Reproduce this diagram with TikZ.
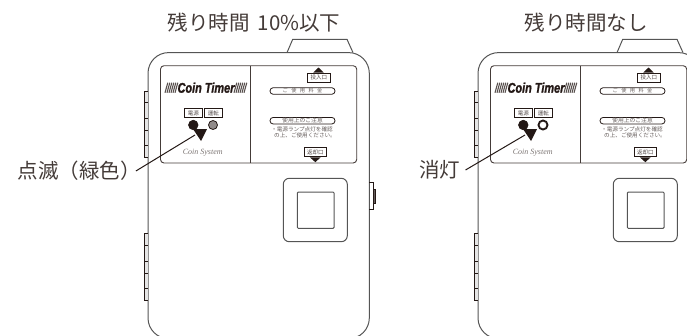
\documentclass[tikz,border=0pt]{standalone}
\usepackage{fontspec}
\setmainfont{Liberation Sans}
\newfontfamily\jp{Noto Sans CJK JP}
\newfontfamily\coinserif{Liberation Serif}
\newfontfamily\coinbold[FakeBold=1.6]{Liberation Sans Bold Italic}
\definecolor{ink}{HTML}{231815}
\definecolor{bodyline}{HTML}{555555}
\tikzset{
  outline/.style={draw=bodyline,line width=1pt},
  panelline/.style={draw=ink!85,line width=.9pt},
  hairline/.style={draw=ink,line width=.55pt},
  bigtext/.style={text=ink!85,font=\jp\fontsize{20.5}{22}\selectfont,inner sep=0pt},
  tinybox/.style={draw=ink,line width=.6pt,fill=white,text=ink!80,inner sep=0pt,minimum height=9pt,font=\jp\fontsize{5.5}{6}\selectfont},
  pill/.style={draw=ink,line width=.8pt,rounded corners=3.2pt,inner sep=0pt,minimum width=65pt,minimum height=6.6pt,text=ink!70,font=\jp\fontsize{5.2}{6}\selectfont},
  tinytext/.style={text=ink!70,inner sep=0pt,font=\jp\fontsize{5.6}{6}\selectfont},
  leader/.style={draw=ink,line width=1pt},
}
\newcommand{\device}[3]{%
\begin{scope}[xshift=#1pt,name prefix=#2-]
  % top tab, then body
  \draw[outline,fill=white] (287,52.6) -- (292.7,39.3) -- (347,39.3) -- (353,52.6);
  \draw[outline,rounded corners=20.6pt] (148,338.6) rectangle (369.3,52.6);
  % hinges
  \draw[hairline,fill=white!90!black] (148,91) -- (144,91) -- (144,157) -- (148,157);
  \draw[hairline,fill=white!90!black] (148,233.3) -- (144,233.3) -- (144,300.7) -- (148,300.7);
  \foreach \ty in {102.7,118,130,145.7,245.5,261,273,288} \draw[hairline] (144,\ty) -- (148,\ty);
  % latch
  \draw[hairline] (369.3,182) -- (373.5,182) -- (373.5,209) -- (369.3,209);
  \draw[hairline,fill=ink!70] (373.5,189) rectangle (375,203);
  % panel
  \draw[panelline,rounded corners=3.5pt] (160.5,65.7) rectangle (356.7,163);
  \draw[panelline] (250.7,65.7) -- (250.7,163);
  % window
  \draw[outline,rounded corners=6pt] (283.3,178.3) rectangle (347.3,241.7);
  \draw[outline,rounded corners=1pt] (297.3,192) rectangle (334,228.3);
  % Coin Timer
  \foreach \sx in {165,167,169,171,173,175,234,236,238,240,242,244}
    \draw[draw=ink!75,line width=1.1pt] (\sx,92.7) -- (\sx+2.8,82.7);
  \node[inner sep=0pt,text=ink,xscale=.78,font=\coinbold\fontsize{14}{14}\selectfont] (title) at (206,87.7) {Coin Timer};
  % lamps
  \node[tinybox,minimum width=18.6pt] (lamp1) at (193.3,113) {電源};
  \node[tinybox,minimum width=17.4pt] (lamp2) at (213.4,113) {運転};
  \node[circle,draw=ink,fill=ink,line width=.6pt,minimum size=9.6pt,inner sep=0pt] (led1) at (193.3,125) {};
  \node[circle,#3,minimum size=9pt,inner sep=0pt] (led2) at (213,125) {};
  \fill[ink] (193,129) -- (207,129) -- (201,141) -- cycle;
  \coordinate (tip) at (195,135);
  \node[text=ink!60,inner sep=0pt,font=\coinserif\itshape\fontsize{8}{9}\selectfont] (maker) at (202.7,153) {Coin System};
  % right part of the panel
  \fill[ink] (313.3,72.6) -- (318.5,67.5) -- (323.7,72.6) -- cycle;
  \node[tinybox,minimum width=22.3pt] (slot) at (318.8,77.8) {投入口};
  \node[pill] (fee) at (302.5,91) {ご\hspace{3.4pt}使\hspace{3.4pt}用\hspace{3.4pt}料\hspace{3.4pt}金};
  \node[pill,font=\jp\fontsize{5.8}{6}\selectfont] (note) at (302.5,120.7) {使用上のご注意};
  \node[tinytext] (line1) at (302,129) {・電源ランプ点灯を確認};
  \node[tinytext] (line2) at (305,135) {の上、ご使用ください。};
  \node[tinybox,minimum width=22.6pt] (ret) at (315.3,152) {返却口};
  \fill[ink] (310,157.4) -- (320.6,157.4) -- (315.3,162.2) -- cycle;
\end{scope}}
\begin{document}
\begin{tikzpicture}[x=1pt,y=-1pt]
  \useasboundingbox (0,0) rectangle (687,335);
  \begin{scope}
    \clip (0,0) rectangle (687,335);
    \device{0}{a}{draw=ink,fill=ink!50,line width=.8pt}
    \device{330}{b}{draw=ink,fill=white,line width=1.9pt}
    \node[bigtext,anchor=west] (head1) at (167.5,23) {残り時間\hspace{8pt}10\%以下};
    \node[bigtext,anchor=west] (head2) at (524.5,23) {残り時間なし};
    \node[bigtext,anchor=west] (lab1) at (17.5,171) {点滅（緑色）};
    \node[bigtext,anchor=east,inner xsep=5pt] (lab2) at (465.5,170) {消灯};
    \draw[leader] ([xshift=-5pt]lab1.east) -- (a-tip);
    \draw[leader] (lab2.east) -- (b-tip);
  \end{scope}
\end{tikzpicture}
\end{document}
